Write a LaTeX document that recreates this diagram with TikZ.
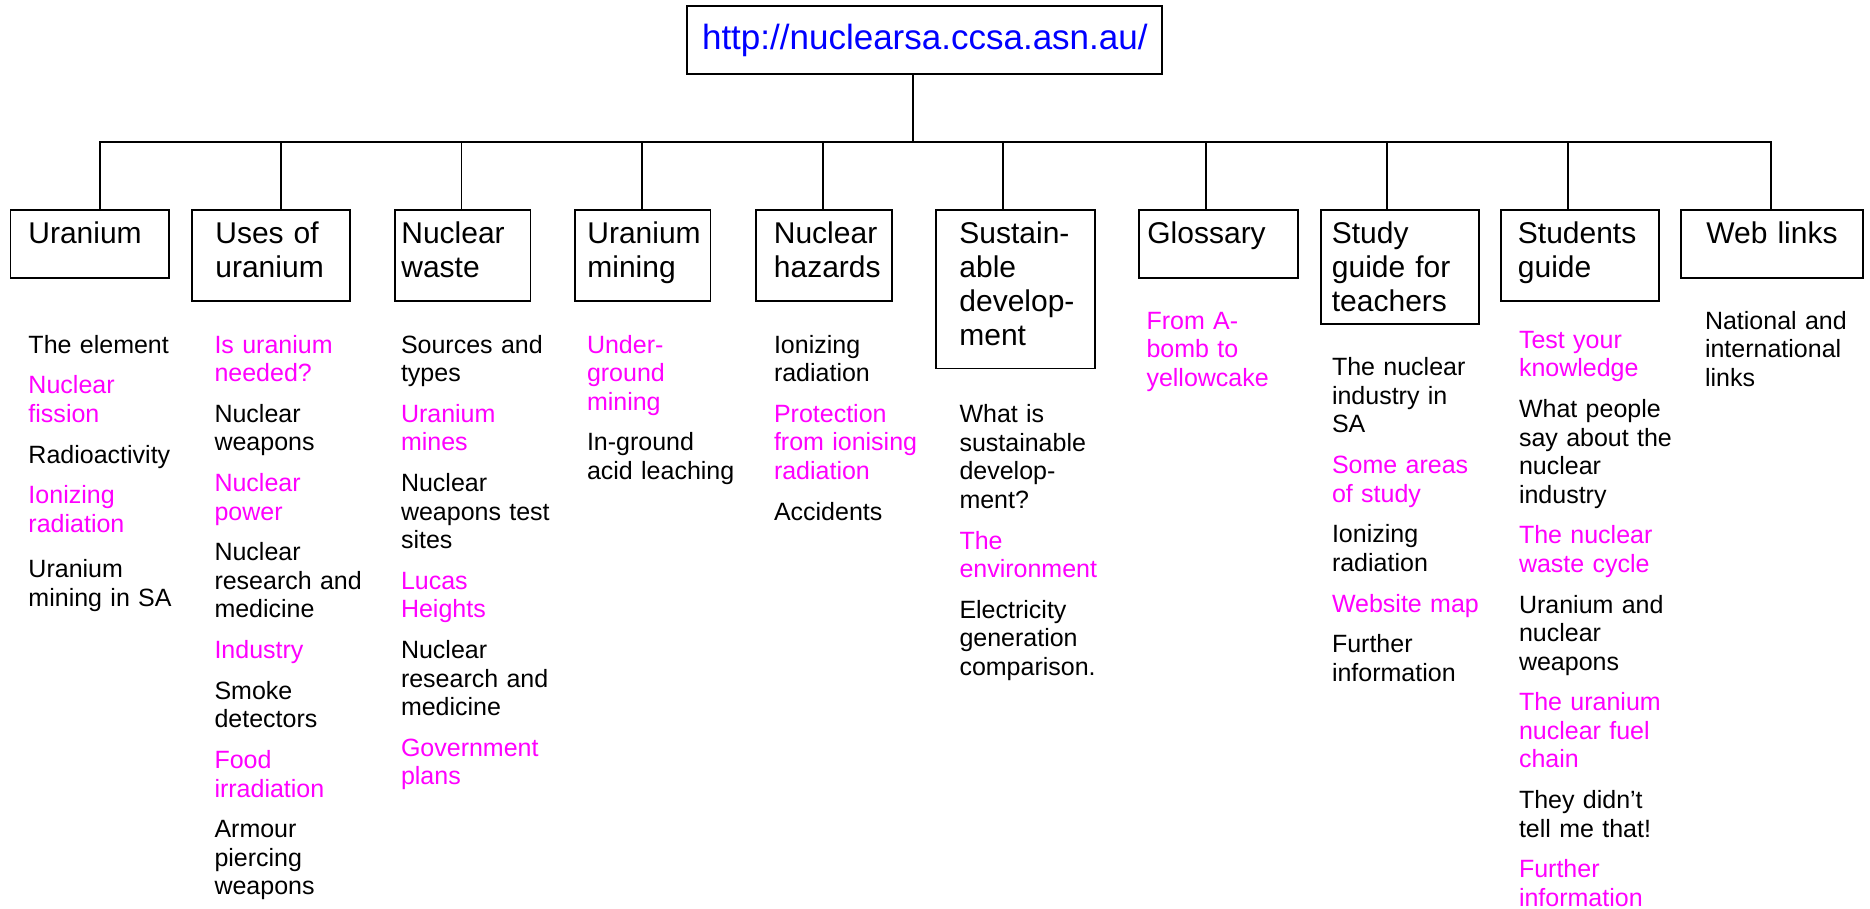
\documentclass[tikz,border=0pt]{standalone}
\usepackage{fontspec}
\setmainfont{Liberation Sans}
\usepackage{xcolor}
\usepackage{tikz}
\usetikzlibrary{calc}
\definecolor{urlblue}{RGB}{0,0,255}
\definecolor{pagepink}{RGB}{255,0,255}
\newcommand{\pagelink}[1]{{\color{pagepink}#1}}
\newcommand{\nextitem}{\\[4.9pt]}
\hyphenpenalty=10000

\begin{document}
\begin{tikzpicture}[x=0.4pt, y=-0.4pt,
      topic/.style={draw, line width=0.7pt, anchor=north west, inner ysep=0pt, align=left,
                    text height=13.2pt, font=\fontsize{12pt}{13.7pt}\selectfont},
      pages/.style={anchor=base west, inner sep=0pt, text width=72pt, align=left,
                    font=\fontsize{10pt}{11.4pt}\selectfont},
      link/.style={line width=0.7pt, line join=miter}]
    \useasboundingbox (0,0) rectangle (1870,908);
    \node[draw, line width=0.7pt, minimum width=190pt, minimum height=27.2pt, inner sep=0pt,
          font=\fontsize{14pt}{16pt}\selectfont, text=urlblue] (site) at (924.8,40)
         {http://nuclearsa.ccsa.asn.au/};
    \node[topic, inner xsep=7.2pt, text width=49pt, text depth=13.9pt] (uranium) at (9.5,209.3) {Uranium};
    \node[topic, inner xsep=9.4pt, text width=44.4pt, text depth=23.1pt] (uses) at (191,209.3) {Uses~of\\uranium};
    \node[topic, inner xsep=2.6pt, text width=49pt, text depth=23.1pt] (waste) at (394,209.3) {Nuclear\\waste};
    \node[topic, inner xsep=5pt, text width=44.2pt, text depth=23.1pt] (mining) at (574,209.3) {Uranium\\mining};
    \node[topic, inner xsep=7.2pt, text width=40pt, text depth=23.1pt] (hazards) at (755,209.3) {Nuclear\\hazards};
    \node[topic, inner xsep=9.4pt, text width=44.8pt, text depth=50.1pt] (sustain) at (935,209.3)
         {\mbox{Sustain-}\\able\\\mbox{develop-}\\ment};
    \node[topic, inner xsep=3.4pt, text width=56.8pt, text depth=13.9pt] (glossary) at (1138,209.3) {Glossary};
    \node[topic, inner xsep=4.4pt, text width=54.4pt, text depth=32.2pt] (teachers) at (1320,209.3) {Study\\guide~for\\teachers};
    \node[topic, inner xsep=6.8pt, text width=49.6pt, text depth=23.1pt] (students) at (1500,209.3) {Students\\guide};
    \node[topic, inner xsep=10.2pt, text width=52.4pt, text depth=13.9pt] (weblinks) at (1680,209.3) {Web~links};
    \coordinate (hub) at (913,142);
    \draw[link] (site.south -| hub) -- (hub);
    \foreach \topicname/\bx in {uranium/100.2, uses/280.9, waste/461.5, mining/642.2, hazards/822.9,
                               sustain/1003, glossary/1206.3, teachers/1387, students/1567.7, weblinks/1771}{
      \coordinate (b-\topicname) at (\bx,142);
    }
    \draw[link] (b-uranium |- uranium.north) -- (b-uranium) -- (b-weblinks) -- (b-weblinks |- weblinks.north);
    \foreach \topicname in {uses, waste, mining, hazards, sustain, glossary, teachers, students}{
      \draw[link] (b-\topicname) -- (b-\topicname |- \topicname.north);
    }
    \node[pages] (uranium-pages) at (28,353.1) {The element\nextitem
      \pagelink{Nuclear\\fission}\nextitem
      Radioactivity\nextitem
      \pagelink{Ionizing\\radiation}\\[6.7pt]
      Uranium\\mining in SA};
    \node[pages] (uses-pages) at (214,353.1) {\pagelink{Is uranium\\needed?}\nextitem
      Nuclear\\weapons\nextitem
      \pagelink{Nuclear\\power}\nextitem
      Nuclear\\research and\\medicine\nextitem
      \pagelink{Industry}\nextitem
      Smoke\\detectors\nextitem
      \pagelink{Food\\irradiation}\nextitem
      Armour\\piercing\\weapons};
    \node[pages] (waste-pages) at (400.5,353.1) {Sources and\\types\nextitem
      \pagelink{Uranium\\mines}\nextitem
      Nuclear\\weapons test\\sites\nextitem
      \pagelink{Lucas\\Heights}\nextitem
      Nuclear\\research and\\medicine\nextitem
      \pagelink{Government\\plans}};
    \node[pages] (mining-pages) at (586.5,353.1) {\pagelink{Under-\\ground\\mining}\nextitem
      In-ground\\acid leaching};
    \node[pages] (hazards-pages) at (773.5,353.1) {Ionizing\\radiation\nextitem
      \pagelink{Protection\\from ionising\\radiation}\nextitem
      Accidents};
    \node[pages] (sustain-pages) at (959,422.8) {What is\\sustainable\\develop-\\ment?\nextitem
      \pagelink{The\\environment}\nextitem
      Electricity\\generation\\comparison.};
    \node[pages] (glossary-pages) at (1146,329.4) {\pagelink{From A-\\bomb to\\yellowcake}};
    \node[pages] (teachers-pages) at (1331.5,375.9) {The nuclear\\industry in\\SA\nextitem
      \pagelink{Some areas\\of study}\nextitem
      Ionizing\\radiation\nextitem
      \pagelink{Website map}\nextitem
      Further\\information};
    \node[pages] (students-pages) at (1518.5,348.3) {\pagelink{Test your\\knowledge}\nextitem
      What people\\say about the\\nuclear\\industry\nextitem
      \pagelink{The nuclear\\waste cycle}\nextitem
      Uranium and\\nuclear\\weapons\nextitem
      \pagelink{The uranium\\nuclear fuel\\chain}\nextitem
      They didn’t\\tell me that!\nextitem
      \pagelink{Further\\information}};
    \node[pages] (weblinks-pages) at (1704.5,329.4) {National and\\international\\links};
  \end{tikzpicture}
\end{document}
